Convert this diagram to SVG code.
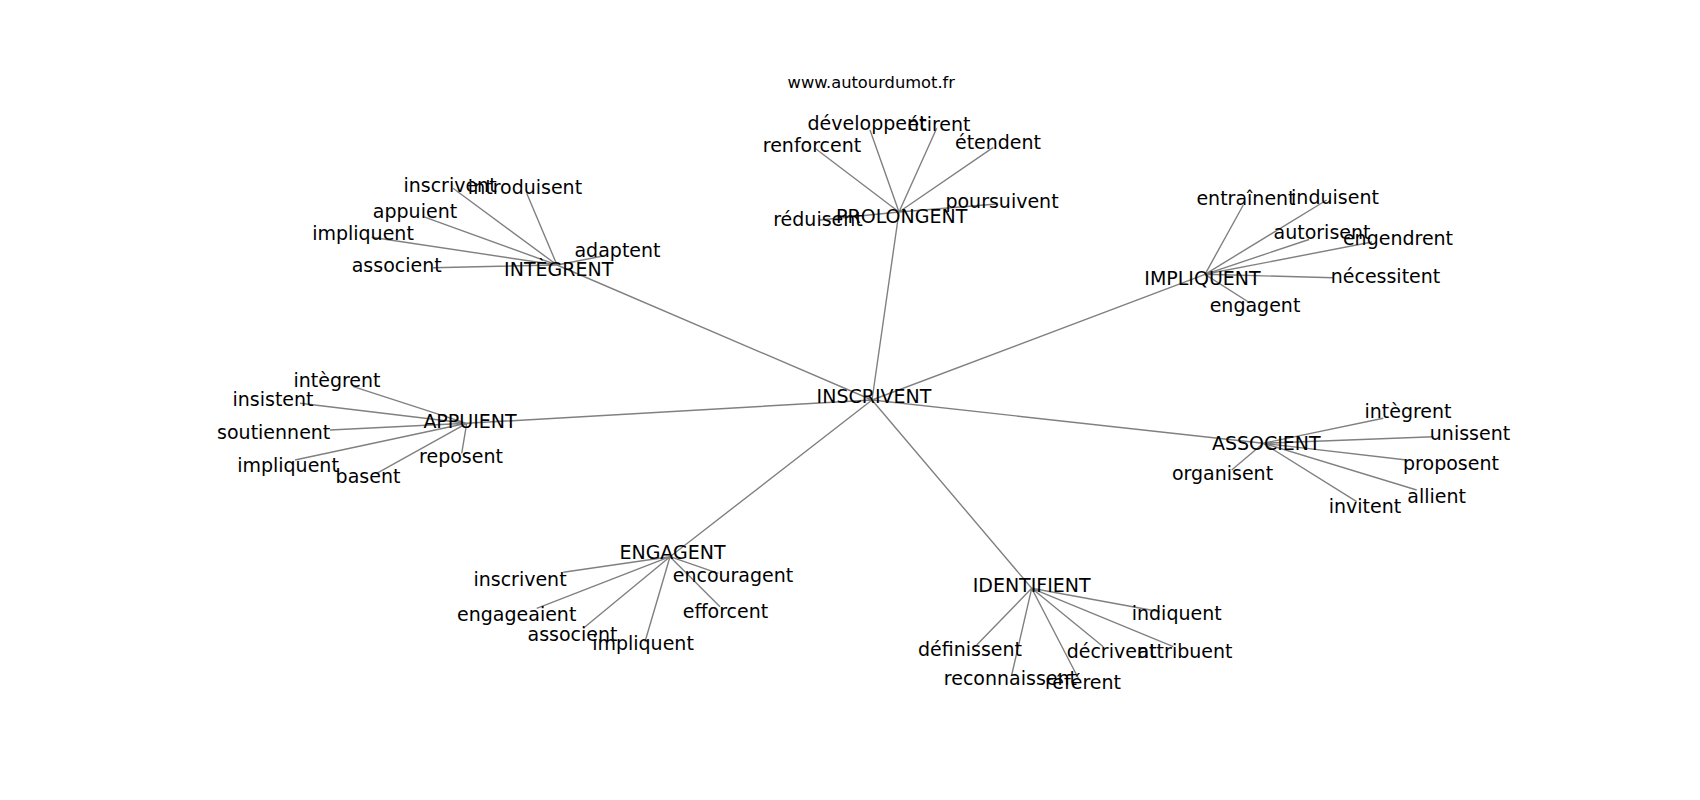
<svg xmlns="http://www.w3.org/2000/svg" width="1700" height="800" viewBox="0 0 1700 800">
<style>
.e{stroke:#808080;stroke-width:1.4;fill:none}
text{font-family:"DejaVu Sans","Liberation Sans",sans-serif;font-size:19px;fill:#000;text-anchor:middle}
.w{font-size:16.3px}
</style>
<rect width="1700" height="800" fill="#fff"/>
<text class="w" x="871.3" y="88.3">www.autourdumot.fr</text>
<g id="connectors">
<path class="e" d="M872,400L899,212M872,400L557,265M872,400L1205,274.3M872,400L466.7,423.3M872,400L1263.3,443.3M872,400L670,556.7M872,400L1031.7,588.3"/>
<path class="e" d="M899,212L870,130M899,212L936.7,128.3M899,212L815,148.3M899,212L993.3,147.3M899,212L996.7,204M899,212L820,220"/>
<path class="e" d="M557,265L453,188.3M557,265L526.7,193.3M557,265L423.3,216.7M557,265L371.7,237.3M557,265L433,267.7M557,265L603,256"/>
<path class="e" d="M1205,274.3L1243.3,205M1205,274.3L1326.7,200M1205,274.3L1309,239.5M1205,274.3L1372,242M1205,274.3L1333.3,277.7M1205,274.3L1250,303"/>
<path class="e" d="M466.7,423.3L353.3,386.7M466.7,423.3L300,403.3M466.7,423.3L330,430M466.7,423.3L295,460M466.7,423.3L376.7,473.3M466.7,423.3L461.7,453.3"/>
<path class="e" d="M1263.3,443.3L1383.3,418.3M1263.3,443.3L1433.3,436.7M1263.3,443.3L1406.7,460M1263.3,443.3L1416.7,490M1263.3,443.3L1356.7,501.7M1263.3,443.3L1231.7,470"/>
<path class="e" d="M670,556.7L563.3,572.3M670,556.7L536.7,608.3M670,556.7L583.3,628.3M670,556.7L645,641.7M670,556.7L718.3,573.3M670,556.7L720,606.7"/>
<path class="e" d="M1031.7,588.3L1160,611.7M1031.7,588.3L976.7,645M1031.7,588.3L1103.3,646.7M1031.7,588.3L1173.3,646.7M1031.7,588.3L1011.7,675M1031.7,588.3L1078.3,678.3"/>
</g>
<g id="n-inscrivent"><text x="874" y="403.3">INSCRIVENT</text></g>
<g id="n-prolongent"><text x="901.7" y="223.3">PROLONGENT</text></g>
<g id="n-integrent"><text x="558.7" y="275.5">INTÈGRENT</text></g>
<g id="n-impliquent"><text x="1202.5" y="285">IMPLIQUENT</text></g>
<g id="n-appuient"><text x="470" y="427.7">APPUIENT</text></g>
<g id="n-associent"><text x="1266.3" y="450">ASSOCIENT</text></g>
<g id="n-engagent"><text x="672.5" y="559.3">ENGAGENT</text></g>
<g id="n-identifient"><text x="1031.7" y="592.3">IDENTIFIENT</text></g>

<g id="p-developpent"><text x="867" y="130">développent</text></g>
<g id="p-etirent"><text x="939" y="130.7">étirent</text></g>
<g id="p-renforcent"><text x="812" y="151.7">renforcent</text></g>
<g id="p-etendent"><text x="998" y="149.3">étendent</text></g>
<g id="p-poursuivent"><text x="1002" y="208.3">poursuivent</text></g>
<g id="p-reduisent"><text x="818" y="225.7">réduisent</text></g>

<g id="i-inscrivent"><text x="450" y="191.7">inscrivent</text></g>
<g id="i-introduisent"><text x="525" y="194.3">introduisent</text></g>
<g id="i-appuient"><text x="415" y="218.3">appuient</text></g>
<g id="i-impliquent"><text x="363" y="240">impliquent</text></g>
<g id="i-associent"><text x="396.7" y="271.7">associent</text></g>
<g id="i-adaptent"><text x="617.5" y="256.7">adaptent</text></g>

<g id="m-entrainent"><text x="1246" y="205">entraînent</text></g>
<g id="m-induisent"><text x="1335" y="204.3">induisent</text></g>
<g id="m-autorisent"><text x="1322" y="238.5">autorisent</text></g>
<g id="m-engendrent"><text x="1398" y="245.3">engendrent</text></g>
<g id="m-necessitent"><text x="1385.5" y="282.7">nécessitent</text></g>
<g id="m-engagent"><text x="1255" y="311.5">engagent</text></g>

<g id="a-integrent"><text x="337" y="386.7">intègrent</text></g>
<g id="a-insistent"><text x="273" y="405.7">insistent</text></g>
<g id="a-soutiennent"><text x="273.7" y="438.5">soutiennent</text></g>
<g id="a-impliquent"><text x="288" y="471.5">impliquent</text></g>
<g id="a-basent"><text x="368" y="483.3">basent</text></g>
<g id="a-reposent"><text x="461" y="463.3">reposent</text></g>

<g id="s-integrent"><text x="1408" y="418.3">intègrent</text></g>
<g id="s-unissent"><text x="1470" y="440">unissent</text></g>
<g id="s-proposent"><text x="1451" y="470">proposent</text></g>
<g id="s-allient"><text x="1436.7" y="503.3">allient</text></g>
<g id="s-invitent"><text x="1365" y="513.3">invitent</text></g>
<g id="s-organisent"><text x="1222.5" y="480">organisent</text></g>

<g id="g-inscrivent"><text x="520" y="585.5">inscrivent</text></g>
<g id="g-engageaient"><text x="516.7" y="620.5">engageaient</text></g>
<g id="g-associent"><text x="572.5" y="640.5">associent</text></g>
<g id="g-impliquent"><text x="643" y="649.5">impliquent</text></g>
<g id="g-encouragent"><text x="733" y="581.7">encouragent</text></g>
<g id="g-efforcent"><text x="725.5" y="617.5">efforcent</text></g>

<g id="d-indiquent"><text x="1176.7" y="620">indiquent</text></g>
<g id="d-definissent"><text x="970" y="655.7">définissent</text></g>
<g id="d-decrivent"><text x="1111.5" y="658.3">décrivent</text></g>
<g id="d-attribuent"><text x="1185" y="658.3">attribuent</text></g>
<g id="d-reconnaissent"><text x="1010.4" y="685">reconnaissent</text></g>
<g id="d-referent"><text x="1083" y="689">référent</text></g>
</svg>
